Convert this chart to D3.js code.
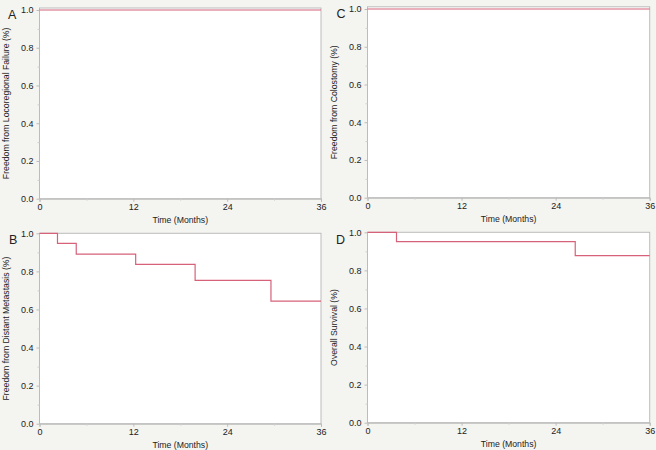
<!DOCTYPE html>
<html>
<head>
<meta charset="utf-8">
<script src="https://cdn.jsdelivr.net/npm/d3@7"></script>
<style>
  html, body { margin: 0; padding: 0; background: #f4f4f1; }
  svg { display: block; }
  text { font-family: "Liberation Sans", Arial, sans-serif; fill: #222; }
</style>
</head>
<body>
<svg id="chart" width="656" height="450"></svg>
<script>
// ---- data ----
const timeTicks = [0, 12, 24, 36];
const timeMinorTicks = [6, 18, 30];
const survTicks = [0.0, 0.2, 0.4, 0.6, 0.8, 1.0];
const survMinorTicks = [0.1, 0.3, 0.5, 0.7, 0.9];

const panelLetters = ["A", "B", "C", "D"];
const yTitles = [
  "Freedom from Locoregional Failure (%)",
  "Freedom from Distant Metastasis (%)",
  "Freedom from Colostomy (%)",
  "Overall Survival (%)"
];
const xTitle = "Time (Months)";

// Kaplan-Meier step curves
const locoTimes = [0, 36];
const locoSurv  = [1.0, 1.0];
const metTimes  = [0, 2.3, 4.7, 12.3, 19.9, 29.6, 36];
const metSurv   = [1.0, 0.947, 0.891, 0.837, 0.753, 0.644, 0.644];
const colTimes  = [0, 36];
const colSurv   = [1.0, 1.0];
const osTimes   = [0, 3.7, 26.5, 36];
const osSurv    = [1.0, 0.951, 0.877, 0.877];

const seriesTimes = [locoTimes, metTimes, colTimes, osTimes];
const seriesSurv  = [locoSurv, metSurv, colSurv, osSurv];

// ---- layout ----
const panels = [
  { left: 39.5, right: 321.0, bottom: 198.7, yOne: 10.0, top: 8.0,  letterX: 8,  letterY: 19 },
  { left: 39.5, right: 321.0, bottom: 423.7, yOne: 233.3, top: 233.3, letterX: 9, letterY: 244 },
  { left: 367.5, right: 649.7, bottom: 197.7, yOne: 9.0, top: 6.8,  letterX: 336.5,  letterY: 18 },
  { left: 367.5, right: 649.7, bottom: 422.7, yOne: 232.3, top: 232.3, letterX: 336, letterY: 243.5 }
];

const lineColor = "#d6627a";
const frameColor = "#bcbcbc";

const svg = d3.select("#chart");

panels.forEach((p, i) => {
  const x = d3.scaleLinear().domain([0, 36]).range([p.left, p.right]);
  const y = d3.scaleLinear().domain([0, 1]).range([p.bottom, p.yOne]);
  const g = svg.append("g");

  // plot background
  g.append("rect")
    .attr("x", p.left).attr("y", p.top)
    .attr("width", p.right - p.left).attr("height", p.bottom - p.top)
    .attr("fill", "#ffffff")
    .attr("stroke", frameColor).attr("stroke-width", 1);

  // x axis
  const xAxis = d3.axisBottom(x).tickValues(timeTicks).tickFormat(d3.format("d"))
    .tickSize(3).tickPadding(2);
  const gx = g.append("g").attr("transform", `translate(0,${p.bottom})`).call(xAxis);
  gx.select(".domain").attr("stroke", frameColor);
  gx.selectAll(".tick line").attr("stroke", frameColor);
  gx.selectAll("text").attr("font-size", 9).attr("fill", "#1a1a1a")
    .attr("font-family", "Liberation Sans, Arial, sans-serif");
  const gxm = g.append("g").attr("transform", `translate(0,${p.bottom})`)
    .call(d3.axisBottom(x).tickValues(timeMinorTicks).tickSize(2).tickFormat(""));
  gxm.select(".domain").remove();
  gxm.selectAll(".tick line").attr("stroke", "#d0d0d0");

  // y axis
  const yAxis = d3.axisLeft(y).tickValues(survTicks).tickFormat(d3.format(".1f"))
    .tickSize(3).tickPadding(3);
  const gy = g.append("g").attr("transform", `translate(${p.left},0)`).call(yAxis);
  gy.select(".domain").remove();
  gy.selectAll(".tick line").attr("stroke", frameColor);
  gy.selectAll("text").attr("font-size", 9).attr("fill", "#1a1a1a")
    .attr("font-family", "Liberation Sans, Arial, sans-serif");
  const gym = g.append("g").attr("transform", `translate(${p.left},0)`)
    .call(d3.axisLeft(y).tickValues(survMinorTicks).tickSize(2).tickFormat(""));
  gym.select(".domain").remove();
  gym.selectAll(".tick line").attr("stroke", "#d0d0d0");

  // KM step line
  const pts = seriesTimes[i].map((t, k) => [t, seriesSurv[i][k]]);
  const line = d3.line().x(d => x(d[0])).y(d => y(d[1])).curve(d3.curveStepAfter);
  g.append("path").datum(pts)
    .attr("d", line)
    .attr("fill", "none")
    .attr("stroke", lineColor)
    .attr("stroke-width", 1.2);

  // titles
  g.append("text")
    .attr("x", (p.left + p.right) / 2).attr("y", p.bottom + 21)
    .attr("text-anchor", "middle").attr("dominant-baseline", "central")
    .attr("font-size", 8.7)
    .text(xTitle);

  g.append("text")
    .attr("transform", `translate(${p.left - 33.5},${(p.top + p.bottom) / 2}) rotate(-90)`)
    .attr("text-anchor", "middle").attr("dominant-baseline", "central")
    .attr("font-size", 8.7)
    .text(yTitles[i]);

  g.append("text")
    .attr("x", p.letterX).attr("y", p.letterY)
    .attr("font-size", 12.5)
    .attr("font-family", "Open Sans, Liberation Sans, sans-serif")
    .attr("fill", "#111")
    .text(panelLetters[i]);
});
</script>
</body>
</html>
